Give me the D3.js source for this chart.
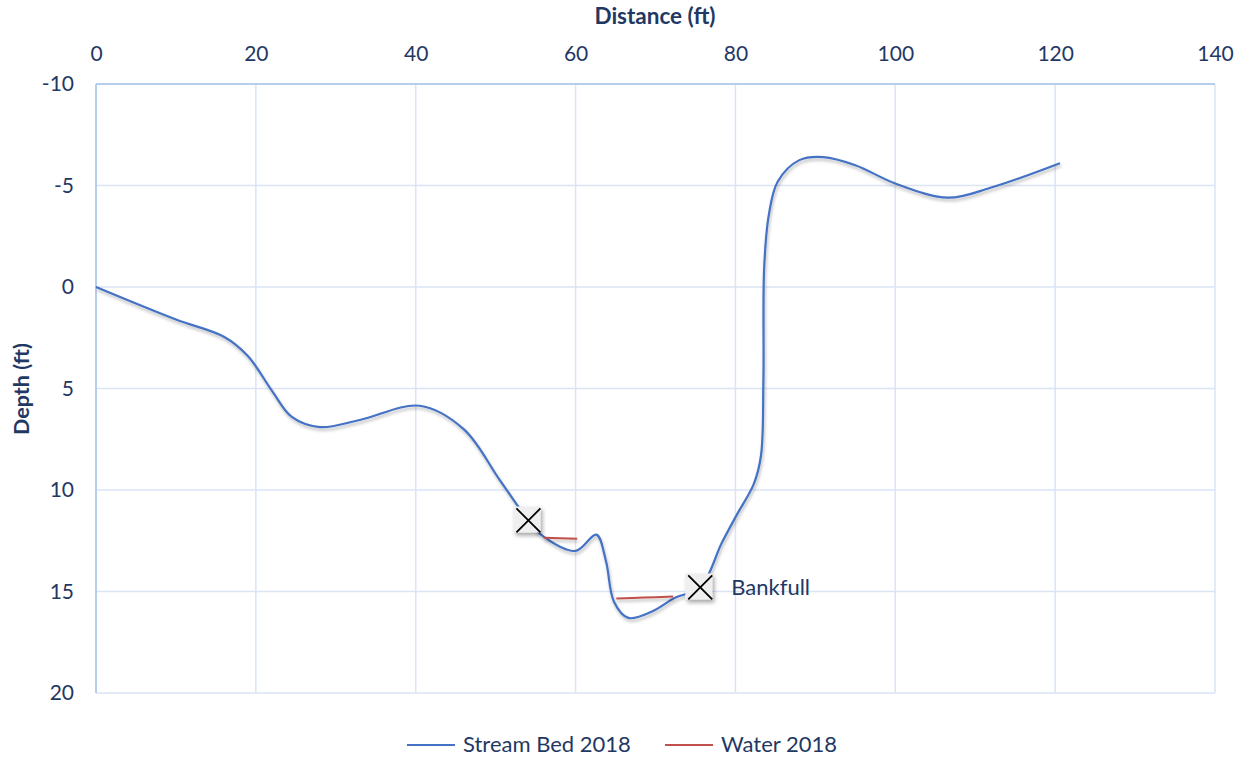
<!DOCTYPE html>
<html><head><meta charset="utf-8">
<script src="https://cdn.jsdelivr.net/npm/d3@7"></script>
<style>body{margin:0;background:#fff}svg{display:block}text{font-family:Lato,"Open Sans",sans-serif}</style>
</head><body><svg id="c" width="1246" height="757"></svg>
<script>
const bedDistance = [0, 10, 16, 19, 22, 24.5, 28, 33, 40.5, 46, 50.5, 54.1, 56, 60, 62.6, 63.8, 64.8, 66.6, 69.5, 72.5, 75.6, 78.3, 80.2, 82.3, 83.2, 83.5, 83.6, 84.2, 85.3, 88, 91, 95, 100, 106.6, 112, 120.6];
const bedDepth    = [0, 1.6, 2.45, 3.4, 5.1, 6.4, 6.9, 6.55, 5.85, 7.0, 9.5, 11.5, 12.3, 13.0, 12.2, 13.5, 15.5, 16.3, 16.0, 15.3, 14.8, 12.6, 11.2, 9.7, 8.3, 4.6, -1.0, -3.6, -5.2, -6.25, -6.4, -6.0, -5.1, -4.4, -4.9, -6.1];
const waterDistance = [56, 60.2, null, 65.1, 68.5, 72.2];
const waterDepth    = [12.35, 12.4, null, 15.35, 15.3, 15.25];
const bankfullDistance = [54.1, 75.6];
const bankfullDepth    = [11.5, 14.8];
const bankfullLabels   = ["", "Bankfull"];
const xTicks = [0, 20, 40, 60, 80, 100, 120, 140];
const yTicks = [-10, -5, 0, 5, 10, 15, 20];
const seriesNames = ["Stream Bed 2018", "Water 2018"];
const seriesColors = ["#4472c4", "#c0504d"];

const svg = d3.select("#c");
const x = d3.scaleLinear().domain([0, 140]).range([96, 1215]);
const y = d3.scaleLinear().domain([-10, 20]).range([84, 693]);
const textCol = "#1f3864";

const defs = svg.append("defs");
const f = defs.append("filter").attr("id","sh").attr("x","-10%").attr("y","-10%").attr("width","120%").attr("height","130%");
f.append("feDropShadow").attr("dx",1).attr("dy",2.5).attr("stdDeviation",1.6).attr("flood-color","#000").attr("flood-opacity",0.28);
const f2 = defs.append("filter").attr("id","sh2").attr("x","-30%").attr("y","-30%").attr("width","170%").attr("height","170%");
f2.append("feDropShadow").attr("dx",2).attr("dy",3).attr("stdDeviation",2).attr("flood-color","#000").attr("flood-opacity",0.35);

// grid
const g = svg.append("g");
g.selectAll(".vx").data(xTicks).join("line")
  .attr("x1", d => x(d)).attr("x2", d => x(d)).attr("y1", y(-10)).attr("y2", y(20))
  .attr("stroke", "#d9e4f5").attr("stroke-width", 1.5);
g.selectAll(".hy").data(yTicks).join("line")
  .attr("y1", d => y(d)).attr("y2", d => y(d)).attr("x1", x(0)).attr("x2", x(140))
  .attr("stroke", "#d9e4f5").attr("stroke-width", 1.5);
g.append("line").attr("x1", x(0)).attr("x2", x(0)).attr("y1", y(-10)).attr("y2", y(20)).attr("stroke","#a9c3ea").attr("stroke-width",1.5);
g.append("line").attr("x1", x(0)).attr("x2", x(140)).attr("y1", y(-10)).attr("y2", y(-10)).attr("stroke","#a9c3ea").attr("stroke-width",1.5);

// tick labels
const fmt = d => String(d);
const xAxis = d3.axisTop(x).tickValues(xTicks).tickFormat(fmt).tickSize(0).tickPadding(0);
const xa = svg.append("g").attr("transform", "translate(0,61)").call(xAxis);
xa.select(".domain").remove();
xa.selectAll("text").attr("fill", textCol).attr("font-size", 21).attr("font-family","Lato").attr("dy", 0);
const yAxis = d3.axisLeft(y).tickValues(yTicks).tickFormat(fmt).tickSize(0).tickPadding(0);
const ya = svg.append("g").attr("transform", "translate(74,0)").call(yAxis);
ya.select(".domain").remove();
ya.selectAll("text").attr("fill", textCol).attr("font-size", 21).attr("font-family","Lato");

// titles
svg.append("text").attr("x", 655).attr("y", 24).attr("text-anchor","middle").attr("font-weight","bold")
  .attr("font-size", 22.5).attr("fill", textCol).text("Distance (ft)");
svg.append("text").attr("transform","translate(29,389) rotate(-90)").attr("text-anchor","middle").attr("font-weight","bold")
  .attr("font-size", 21.5).attr("fill", textCol).text("Depth (ft)");

// stream bed
const bed = bedDistance.map((d, i) => [d, bedDepth[i]]);
const line = d3.line().x(d => x(d[0])).y(d => y(d[1])).curve(d3.curveCatmullRom.alpha(0.5));
svg.append("path").datum(bed).attr("d", line).attr("fill","none").attr("stroke", seriesColors[0])
  .attr("stroke-width", 2.2).attr("filter","url(#sh)");

// water
const water = waterDistance.map((d, i) => [d, waterDepth[i]]);
const wline = d3.line().defined(d => d[0] !== null).x(d => x(d[0])).y(d => y(d[1])).curve(d3.curveCatmullRom.alpha(0.5));
svg.append("path").datum(water).attr("d", wline).attr("fill","none").attr("stroke", seriesColors[1])
  .attr("stroke-width", 2).attr("filter","url(#sh)");

// bankfull markers
const bk = bankfullDistance.map((d, i) => ({x: d, y: bankfullDepth[i], label: bankfullLabels[i]}));
const mk = svg.selectAll(".mk").data(bk).join("g").attr("transform", d => `translate(${x(d.x)},${y(d.y)})`);
mk.append("rect").attr("x", -15).attr("y", -14).attr("width", 27).attr("height", 26)
  .attr("fill", "#efefef").attr("filter","url(#sh2)");
mk.append("path").attr("d", "M-12,-12L12,12M12,-12L-12,12").attr("stroke","#000").attr("stroke-width",1.8).attr("fill","none");
mk.append("text").attr("x", 31).attr("y", 8).attr("font-size", 22).attr("fill", textCol).text(d => d.label);

// legend
const leg = svg.append("g");
const lx = [407, 665];
seriesNames.forEach((n, i) => {
  leg.append("line").attr("x1", lx[i]).attr("x2", lx[i] + 48).attr("y1", 745).attr("y2", 745)
    .attr("stroke", seriesColors[i]).attr("stroke-width", 2);
  leg.append("text").attr("x", lx[i] + 56).attr("y", 752).attr("font-size", 22).attr("fill", textCol).text(n);
});
</script></body></html>
